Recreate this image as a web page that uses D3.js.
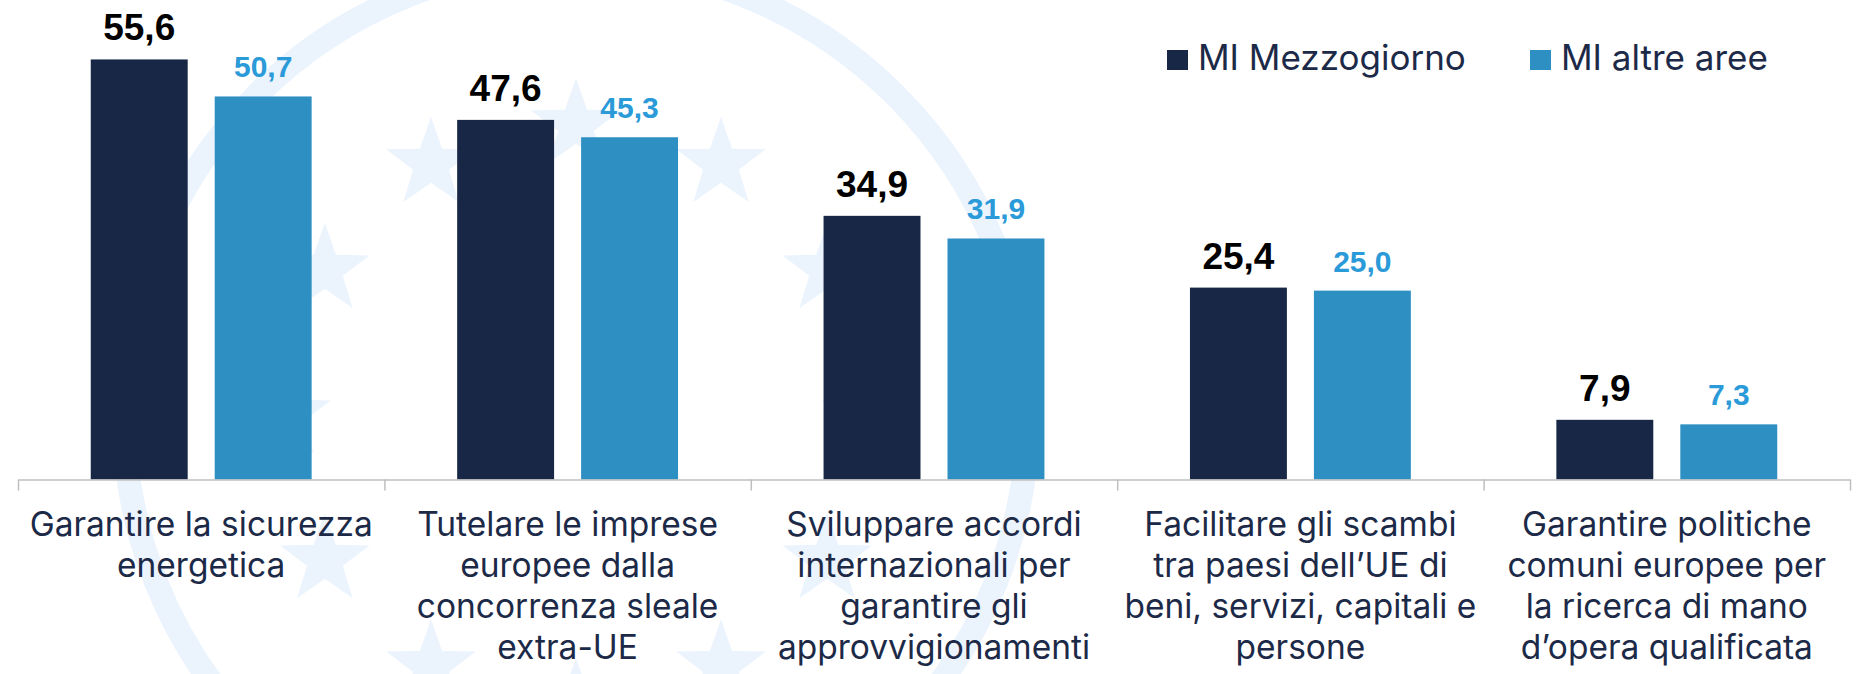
<!DOCTYPE html>
<html>
<head>
<meta charset="utf-8">
<script src="https://cdn.jsdelivr.net/npm/d3@7"></script>
<style>
  body { margin: 0; background: #fff; }
  .cat-label { font-family: Inter, "Open Sans", sans-serif; font-size: 33.5px; fill: #1c2a48; }
  .legend-text { font-family: Inter, "Open Sans", sans-serif; font-size: 35px; fill: #1c2a48; }
  .val { font-family: "Liberation Sans", Arial, sans-serif; font-weight: bold; }
</style>
</head>
<body>
<div id="chart"></div>
<script>
// data
const categories = [
  "Garantire la sicurezza energetica",
  "Tutelare le imprese europee dalla concorrenza sleale extra-UE",
  "Sviluppare accordi internazionali per garantire gli approvvigionamenti",
  "Facilitare gli scambi tra paesi dell’UE di beni, servizi, capitali e persone",
  "Garantire politiche comuni europee per la ricerca di mano d’opera qualificata"
];
const categoryLines = [
  ["Garantire la sicurezza", "energetica"],
  ["Tutelare le imprese", "europee dalla", "concorrenza sleale", "extra-UE"],
  ["Sviluppare accordi", "internazionali per", "garantire gli", "approvvigionamenti"],
  ["Facilitare gli scambi", "tra paesi dell’UE di", "beni, servizi, capitali e", "persone"],
  ["Garantire politiche", "comuni europee per", "la ricerca di mano", "d’opera qualificata"]
];
const series = ["MI Mezzogiorno", "MI altre aree"];
const mezzogiorno = [55.6, 47.6, 34.9, 25.4, 7.9];
const altreAree = [50.7, 45.3, 31.9, 25.0, 7.3];

const width = 1868, height = 674;
const barColors = ["#172745", "#2d8fc2"];
const labelColors = ["#000000", "#2a9ad8"];
const labelSizes = [37, 30];

const svg = d3.select("#chart").append("svg")
  .attr("width", width)
  .attr("height", height);

// faint EU watermark behind the chart
const wm = svg.append("g").attr("fill", "#ebf3fd").attr("stroke", "none");
const wmCx = 576, wmCy = 415;
wm.append("circle")
  .attr("cx", wmCx).attr("cy", wmCy).attr("r", 452)
  .attr("fill", "none").attr("stroke", "#ebf3fd").attr("stroke-width", 24);

function starPath(r) {
  const pts = d3.range(10).map(i => {
    const a = -Math.PI / 2 + i * Math.PI / 5;
    const rr = i % 2 ? r * 0.4 : r;
    return [rr * Math.cos(a), rr * Math.sin(a)];
  });
  return d3.line()(pts) + "Z";
}
wm.selectAll(".star")
  .data(d3.range(12))
  .enter().append("path")
    .attr("class", "star")
    .attr("d", starPath(47))
    .attr("transform", d => {
      const a = d * Math.PI / 6;
      return "translate(" + (wmCx + 290 * Math.sin(a)) + "," + (wmCy - 290 * Math.cos(a)) + ")";
    });

// scales
const x0 = d3.scaleBand()
  .domain(categories)
  .range([18, 1850])
  .paddingInner(0)
  .paddingOuter(0);

const x1 = d3.scaleBand()
  .domain(series)
  .range([0, x0.bandwidth()])
  .paddingInner(0.218)
  .paddingOuter(0.587);

const y = d3.scaleLinear()
  .domain([0, 60])
  .range([479.5, 26.2]);

const rows = categories.map((c, i) => ({
  cat: c,
  values: [
    { s: series[0], v: mezzogiorno[i], k: 0 },
    { s: series[1], v: altreAree[i], k: 1 }
  ]
}));

const groups = svg.append("g").selectAll(".grp")
  .data(rows)
  .enter().append("g")
    .attr("class", "grp")
    .attr("transform", d => "translate(" + x0(d.cat) + ",0)");

groups.selectAll("rect")
  .data(d => d.values)
  .enter().append("rect")
    .attr("x", d => x1(d.s))
    .attr("y", d => y(d.v))
    .attr("width", x1.bandwidth())
    .attr("height", d => y(0) - y(d.v))
    .attr("fill", d => barColors[d.k]);

groups.selectAll(".val")
  .data(d => d.values)
  .enter().append("text")
    .attr("class", "val")
    .attr("x", d => x1(d.s) + x1.bandwidth() / 2)
    .attr("y", d => y(d.v) - 19)
    .attr("text-anchor", "middle")
    .style("font-size", d => labelSizes[d.k] + "px")
    .attr("fill", d => labelColors[d.k])
    .text(d => d.v.toFixed(1).replace(".", ","));

// axis with ticks on category boundaries
const edges = d3.scaleLinear()
  .domain([0, categories.length])
  .range(x0.range());

const axis = svg.append("g")
  .attr("transform", "translate(0," + y(0) + ")")
  .call(d3.axisBottom(edges)
    .ticks(categories.length)
    .tickFormat("")
    .tickSize(11)
    .tickSizeOuter(0));
axis.select(".domain").attr("stroke", "#bfbfbf").attr("stroke-width", 1.5);
axis.selectAll(".tick line").attr("stroke", "#bfbfbf").attr("stroke-width", 1.5);

// category labels
svg.append("g").selectAll(".cat-label")
  .data(categories)
  .enter().append("text")
    .attr("class", "cat-label")
    .attr("text-anchor", "middle")
    .each(function(d, i) {
      const t = d3.select(this);
      const cx = x0(d) + x0.bandwidth() / 2;
      categoryLines[i].forEach((line, j) => {
        t.append("tspan")
          .attr("x", cx)
          .attr("y", 536 + j * 41)
          .text(line);
      });
    });

// legend
const legendX = [1167, 1530];
const legend = svg.append("g").selectAll(".leg")
  .data(series)
  .enter().append("g")
    .attr("class", "leg")
    .attr("transform", (d, i) => "translate(" + legendX[i] + ",50)");
legend.append("rect")
  .attr("width", 21).attr("height", 20)
  .attr("fill", (d, i) => barColors[i]);
legend.append("text")
  .attr("class", "legend-text")
  .attr("x", 31)
  .attr("y", 20)
  .text(d => d);
</script>
</body>
</html>
